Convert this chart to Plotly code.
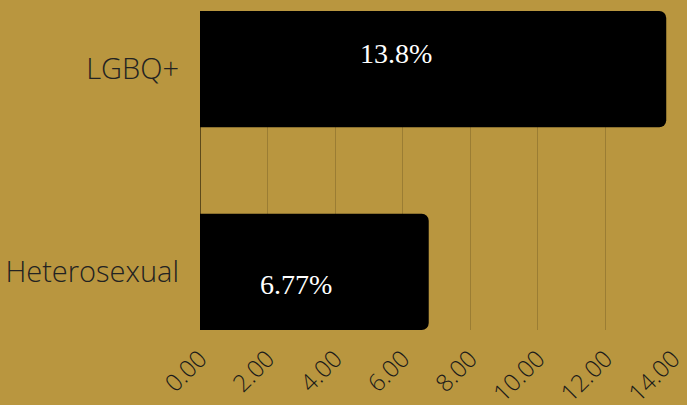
import plotly.graph_objects as go

# Share of respondents by group
groups = ["Heterosexual", "LGBQ+"]
values = [6.77, 13.8]
value_labels = ["6.77%", "13.8%"]
tick_vals = [0, 2, 4, 6, 8, 10, 12, 14]

BG = "#B9963F"

fig = go.Figure(
    go.Bar(
        x=values,
        y=groups,
        orientation="h",
        marker=dict(color="#000000", line=dict(width=0)),
        width=0.574,
        hoverinfo="skip",
    )
)

# value labels inside the bars
label_shift = [-13, 16]
for g, v, t, s in zip(groups, values, value_labels, label_shift):
    fig.add_annotation(
        x=v * 0.42, y=g, text=t, showarrow=False, yshift=s,
        font=dict(family="Liberation Serif, DejaVu Serif, serif", size=28, color="#ffffff"),
    )

fig.update_layout(
    width=687,
    height=405,
    margin=dict(l=200, r=14, t=11, b=75),
    paper_bgcolor=BG,
    plot_bgcolor=BG,
    barcornerradius=7,
    showlegend=False,
    xaxis=dict(
        range=[0, 14],
        tickvals=tick_vals,
        tickformat=".2f",
        tickangle=-45,
        automargin=False,
        showgrid=True,
        gridcolor="#9b7d33",
        gridwidth=1,
        zeroline=True,
        zerolinecolor="#5e4a1a",
        zerolinewidth=1,
        ticks="",
        ticklabelstandoff=9,
        tickfont=dict(family="Open Sans", size=24, color="#1a1a1a", weight=300),
    ),
    yaxis=dict(
        range=[-0.287, 1.287],
        categoryorder="array",
        categoryarray=groups,
        automargin=False,
        showgrid=False,
        zeroline=False,
        ticks="",
        ticklabelstandoff=20,
        tickfont=dict(family="Open Sans", size=29, color="#222222", weight=300),
    ),
)

fig.write_html("out.html")
